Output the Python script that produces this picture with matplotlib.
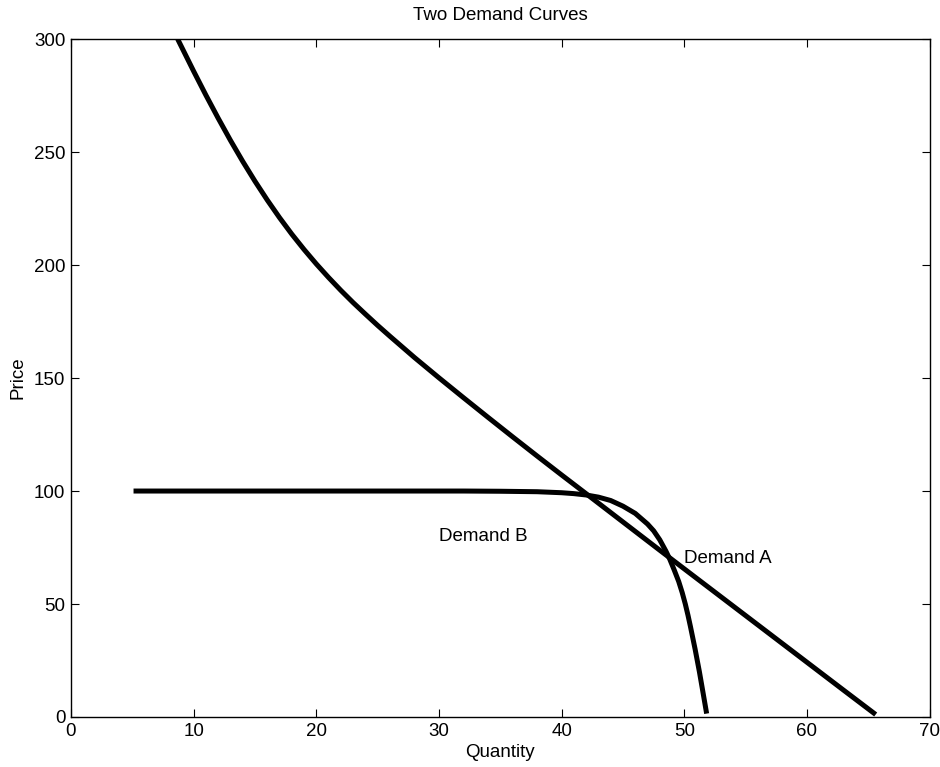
"""
Two Demand Curves - MATLAB-style line chart
"""

import matplotlib
matplotlib.use('Agg')
import matplotlib.pyplot as plt

plt.rcParams['font.family'] = ['Liberation Sans', 'DejaVu Sans']

# Demand A
qty_a = [8.7, 10, 11, 12, 13, 14, 15, 16, 17, 18, 19, 20, 21, 22, 23, 24, 25, 26,
         28, 30, 32, 34, 36, 38, 40, 42, 45, 48, 51, 54, 57, 60, 63, 65.6]
price_a = [300, 285.8, 275.2, 265.0, 255.2, 245.9, 237.1, 228.8, 221.0, 213.7,
           206.9, 200.5, 194.5, 188.8, 183.4, 178.3, 173.3, 168.5,
           159.1, 150.1, 141.3, 132.6, 124.0, 115.5, 107.1, 98.8, 86.3, 73.8,
           61.4, 49.0, 36.6, 24.2, 11.8, 1.1]

# Demand B
qty_b = [5.1, 15, 25, 32, 35, 38, 40, 41, 42, 43, 44, 45, 46, 47, 47.5, 48,
         48.5, 48.8, 49.18, 49.54, 49.83, 50.08, 50.3, 50.5, 50.88, 51.23,
         51.55, 51.82]
price_b = [100, 100, 100, 100, 99.9, 99.7, 99.25, 98.85, 98.25, 97.3, 95.8,
           93.3, 90.1, 85.4, 82.4, 78.4, 73.4, 70, 65, 60, 55, 50, 45, 40, 30,
           20, 10, 1.5]

labels = ['Demand A', 'Demand B']
label_pos = [(50.0, 70.0), (30.0, 80.0)]

fig = plt.figure(figsize=(9.4, 7.67), dpi=100)
ax = fig.add_axes([0.0755, 0.0652, 0.9135, 0.8838])

ax.plot(qty_a, price_a, 'k-', linewidth=3.6, solid_capstyle='butt',
        solid_joinstyle='round')
ax.plot(qty_b, price_b, 'k-', linewidth=3.6, solid_capstyle='butt',
        solid_joinstyle='round')

for lab, (x, y) in zip(labels, label_pos):
    ax.text(x, y, lab, ha='left', va='center', fontsize=13.5)

ax.set_xlim(0, 70)
ax.set_ylim(0, 300)
ax.set_xticks(range(0, 71, 10))
ax.set_yticks(range(0, 301, 50))
ax.tick_params(direction='in', length=6, width=0.8, top=True, right=True,
               labelsize=13.5, pad=4)
for sp in ax.spines.values():
    sp.set_linewidth(1.0)

ax.set_title('Two Demand Curves', fontsize=13.5, pad=14)
ax.set_xlabel('Quantity', fontsize=13.5, labelpad=3)
ax.set_ylabel('Price', fontsize=13.5, labelpad=5)

plt.savefig('out.png', dpi=100)
plt.close()
